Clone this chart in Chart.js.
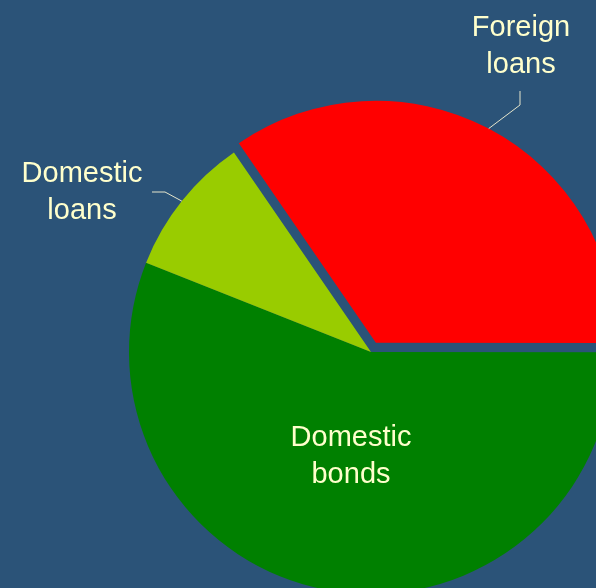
<!DOCTYPE html>
<html>
<head>
<meta charset="utf-8">
<script src="https://cdn.jsdelivr.net/npm/chart.js@4"></script>
<style>
  html, body { margin: 0; padding: 0; background: #2B5378; overflow: hidden; }
  #wrap { width: 596px; height: 588px; overflow: hidden; position: relative; }
  canvas { position: absolute; left: 0; top: 0; }
</style>
</head>
<body>
<div id="wrap"><canvas id="debt" width="742" height="704"></canvas></div>
<script>
const categories = ['Foreign loans', 'Domestic bonds', 'Domestic loans'];
const shares = [34.6, 56.0, 9.4];
const colors = ['#FF0000', '#008000', '#99CC00'];
const explode = [10.5, 0, 0];

// label text lines, where the text sits and how the leader line bends
const labelLines = [['Foreign', 'loans'], ['Domestic', 'bonds'], ['Domestic', 'loans']];
const labelPos = [
  { x: 521, y: 36, elbow: [520, 105], end: [520, 91] },
  { x: 351, y: 446 },
  { x: 82, y: 182, elbow: [165, 192], end: [152, 192] },
];

// pull slices out along their mid angle without growing their radius
const explodePlugin = {
  id: 'explode',
  afterDatasetUpdate(chart, args) {
    const arcs = chart.getDatasetMeta(args.index).data;
    arcs.forEach((arc, i) => {
      const d = explode[i] || 0;
      if (!d) return;
      const mid = (arc.startAngle + arc.endAngle) / 2;
      arc.x += Math.cos(mid) * d;
      arc.y += Math.sin(mid) * d;
    });
  }
};

const labelPlugin = {
  id: 'sliceLabels',
  afterDraw(chart) {
    const ctx = chart.ctx;
    const arcs = chart.getDatasetMeta(0).data;
    ctx.save();
    ctx.font = '29px "Liberation Sans", Arial, sans-serif';
    ctx.fillStyle = '#FFFFCC';
    ctx.textAlign = 'center';
    ctx.textBaseline = 'alphabetic';
    arcs.forEach((arc, i) => {
      const p = labelPos[i];
      if (p.elbow) {
        const mid = (arc.startAngle + arc.endAngle) / 2;
        const sx = arc.x + Math.cos(mid) * arc.outerRadius;
        const sy = arc.y + Math.sin(mid) * arc.outerRadius;
        ctx.strokeStyle = '#E6E6CC';
        ctx.lineWidth = 1;
        ctx.beginPath();
        ctx.moveTo(sx, sy);
        ctx.lineTo(p.elbow[0], p.elbow[1]);
        ctx.lineTo(p.end[0], p.end[1]);
        ctx.stroke();
      }
      labelLines[i].forEach((t, k) => ctx.fillText(t, p.x, p.y + k * 37));
    });
    ctx.restore();
  }
};

new Chart(document.getElementById('debt'), {
  type: 'pie',
  data: {
    labels: categories,
    datasets: [{
      data: shares,
      backgroundColor: colors,
      borderWidth: 0,
      hoverOffset: 0,
    }],
  },
  options: {
    responsive: false,
    animation: false,
    rotation: -34.5,
    radius: 242,
    layout: { padding: 0 },
    plugins: {
      legend: { display: false },
      tooltip: { enabled: false },
    },
  },
  plugins: [explodePlugin, labelPlugin],
});
</script>
</body>
</html>
